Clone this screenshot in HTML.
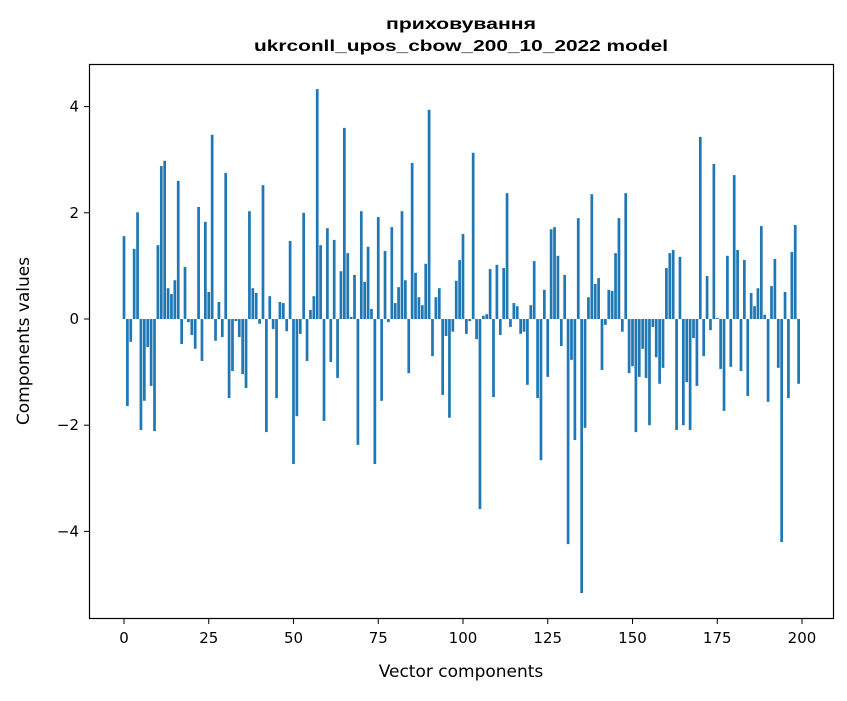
<!DOCTYPE html>
<html><head><meta charset="utf-8"><style>
html,body{margin:0;padding:0;background:#fff;}
svg text{font-family:"DejaVu Sans","Liberation Sans",sans-serif;fill:#000;}
</style></head><body>
<svg id="chart" width="847" height="696" xmlns="http://www.w3.org/2000/svg">
<rect x="0" y="0" width="847" height="696" fill="#fff"/>
<g id="bars"></g>
<g id="xticks"></g>
<g id="yticks"></g>
<rect x="89.5" y="64.5" width="744" height="554" fill="none" stroke="#000" stroke-width="1.2"/>
<text x="461" y="29" text-anchor="middle" style="font-family:'Liberation Sans',sans-serif;font-weight:bold;font-size:16px" textLength="150" lengthAdjust="spacingAndGlyphs">приховування</text>
<text x="461" y="51" text-anchor="middle" style="font-family:'Liberation Sans',sans-serif;font-weight:bold;font-size:16px" textLength="414" lengthAdjust="spacingAndGlyphs">ukrconll_upos_cbow_200_10_2022 model</text>
<text x="461" y="677" text-anchor="middle" font-size="17">Vector components</text>
<text transform="translate(29,341) rotate(-90)" text-anchor="middle" font-size="17">Components values</text>
</svg>
<script>
const values = [1.56,-1.64,-0.43,1.32,2.01,-2.09,-1.54,-0.53,-1.26,-2.11,
1.39,2.88,2.98,0.58,0.47,0.73,2.60,-0.47,0.98,-0.06,
-0.30,-0.56,2.11,-0.79,1.83,0.51,3.47,-0.41,0.32,-0.34,
2.75,-1.49,-0.98,-0.04,-0.34,-1.04,-1.30,2.03,0.58,0.49,
-0.09,2.52,-2.13,0.43,-0.19,-1.49,0.32,0.30,-0.23,1.47,
-2.73,-1.83,-0.28,2.00,-0.79,0.17,0.43,4.33,1.39,-1.92,
1.71,-0.81,1.49,-1.11,0.90,3.60,1.24,0.04,0.83,-2.37,
2.03,0.70,1.36,0.19,-2.73,1.92,-1.54,1.28,-0.06,1.73,
0.30,0.60,2.03,0.73,-1.02,2.94,0.87,0.41,0.26,1.04,
3.94,-0.70,0.41,0.58,-1.43,-0.32,-1.86,-0.24,0.72,1.11,
1.60,-0.28,-0.04,3.13,-0.38,-3.58,0.06,0.09,0.94,-1.47,
1.02,-0.30,0.96,2.37,-0.15,0.30,0.24,-0.28,-0.24,-1.24,
0.26,1.09,-1.49,-2.66,0.55,-1.09,1.69,1.73,1.19,-0.51,
0.83,-4.24,-0.77,-2.28,1.90,-5.16,-2.05,0.41,2.35,0.66,
0.77,-0.96,-0.11,0.55,0.53,1.24,1.90,-0.24,2.37,-1.02,
-0.89,-2.13,-1.09,-0.56,-1.11,-2.00,-0.15,-0.72,-1.22,-0.92,
0.96,1.24,1.30,-2.09,1.17,-2.00,-1.19,-2.09,-0.36,-1.26,
3.43,-0.70,0.81,-0.21,2.92,0.02,-0.94,-1.73,1.19,-0.90,
2.71,1.30,-0.98,1.11,-1.45,0.49,0.24,0.58,1.75,0.08,
-1.56,0.62,1.13,-0.92,-4.20,0.51,-1.49,1.26,1.77,-1.22];
const xTicks = [0,25,50,75,100,125,150,175,200];
const yTicks = [-4,-2,0,2,4];
const yTickLabels = ["\u22124","\u22122","0","2","4"];

const X0=124, XS=3.39, Y0=319, YS=53.1;
function xs(v){return X0+v*XS;}
function ys(v){return Y0-v*YS;}
const NS="http://www.w3.org/2000/svg";
const gb=document.getElementById('bars');
values.forEach((v,i)=>{
  const r=document.createElementNS(NS,'rect');
  const w=0.8*XS;
  r.setAttribute('x',xs(i)-w/2);
  r.setAttribute('width',w);
  r.setAttribute('y',Math.min(ys(v),ys(0)));
  r.setAttribute('height',Math.abs(ys(v)-ys(0)));
  r.setAttribute('fill','#1f77b4');
  
  
  gb.appendChild(r);
});
const gx=document.getElementById('xticks');
xTicks.forEach(t=>{
  const x=xs(t);
  const l=document.createElementNS(NS,'line');
  l.setAttribute('x1',x);l.setAttribute('x2',x);l.setAttribute('y1',619);l.setAttribute('y2',624);
  l.setAttribute('stroke','#000');
  
  
  gx.appendChild(l);
  const tx=document.createElementNS(NS,'text');
  tx.setAttribute('x',x);tx.setAttribute('y',643);tx.setAttribute('text-anchor','middle');tx.setAttribute('font-size','15');
  tx.textContent=t;
  
  
  gx.appendChild(tx);
});
const gy=document.getElementById('yticks');
yTicks.forEach((t,i)=>{
  const y=ys(t);
  const l=document.createElementNS(NS,'line');
  l.setAttribute('x1',84);l.setAttribute('x2',89);l.setAttribute('y1',y);l.setAttribute('y2',y);
  l.setAttribute('stroke','#000');
  
  
  gy.appendChild(l);
  const tx=document.createElementNS(NS,'text');
  tx.setAttribute('x',79);tx.setAttribute('y',y+5);tx.setAttribute('text-anchor','end');tx.setAttribute('font-size','15');
  tx.textContent=yTickLabels[i];
  
  
  gy.appendChild(tx);
});
</script>
</body></html>
